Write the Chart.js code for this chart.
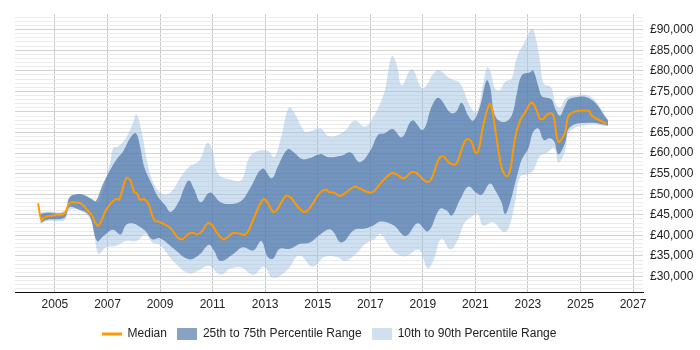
<!DOCTYPE html>
<html>
<head>
<meta charset="utf-8">
<script src="https://cdn.jsdelivr.net/npm/chart.js@4/dist/chart.umd.min.js"></script>
<style>
  body { margin: 0; background: #fff; }
  #wrap { width: 700px; height: 350px; }
</style>
</head>
<body>
<div id="wrap"><canvas id="chart" width="700" height="350"></canvas></div>
<script>
// [year, salary] pairs
const median = [
  [2004.36, 47800], [2004.49, 43750], [2004.62, 44500], [2005.0, 44900], [2005.36, 45300],
  [2005.55, 47750], [2005.83, 48000], [2006.02, 47650], [2006.21, 46300], [2006.4, 44900],
  [2006.61, 42400], [2006.72, 42950], [2006.97, 46450], [2007.29, 48800], [2007.45, 48800],
  [2007.71, 53900], [2007.86, 53500], [2008.02, 50550], [2008.12, 50200], [2008.24, 48700],
  [2008.4, 48800], [2008.56, 47650], [2008.78, 43750], [2009.0, 43200], [2009.39, 41800],
  [2009.7, 39300], [2009.87, 39150], [2010.09, 40450], [2010.28, 40600], [2010.41, 40200],
  [2010.6, 41000], [2010.81, 42950], [2010.98, 42550], [2011.17, 40600], [2011.4, 39050],
  [2011.55, 39450], [2011.77, 40600], [2012.0, 40450], [2012.25, 40200], [2012.44, 42200],
  [2012.67, 45700], [2012.93, 48800], [2013.08, 48050], [2013.31, 45700], [2013.46, 46300],
  [2013.78, 49600], [2013.97, 49200], [2014.2, 47300], [2014.48, 45700], [2014.67, 46450],
  [2015.09, 50400], [2015.31, 51150], [2015.43, 50550], [2015.62, 50400], [2015.85, 49600],
  [2016.07, 50400], [2016.39, 51800], [2016.64, 51300], [2016.96, 50400], [2017.15, 50800],
  [2017.4, 52700], [2017.79, 55100], [2017.98, 54900], [2018.23, 53900], [2018.36, 54150],
  [2018.55, 55300], [2018.74, 55250], [2019.12, 53100], [2019.31, 53500], [2019.63, 58800],
  [2019.8, 59150], [2020.01, 57600], [2020.27, 57400], [2020.46, 60550], [2020.65, 63300],
  [2020.84, 62900], [2021.0, 60100], [2021.11, 60450], [2021.3, 66700], [2021.53, 71900],
  [2021.62, 71100], [2021.81, 63600], [2022.0, 56550], [2022.19, 54350], [2022.32, 55750],
  [2022.51, 63600], [2022.7, 67900], [2022.89, 69850], [2023.15, 72300], [2023.34, 70250],
  [2023.46, 68300], [2023.6, 68400], [2023.72, 69300], [2023.84, 69700], [2023.97, 69100],
  [2024.16, 62800], [2024.41, 65000], [2024.6, 69500], [2025.33, 70250], [2025.42, 69100],
  [2026.0, 67100]
];

const p75 = [
  [2004.45, 45200], [2004.7, 45500], [2005.36, 45700], [2005.55, 49200], [2005.83, 50000],
  [2006.1, 49900], [2006.4, 48800], [2006.55, 48300], [2006.78, 51850], [2007.09, 55750],
  [2007.35, 58500], [2007.6, 60450], [2007.86, 63600], [2008.08, 64800], [2008.25, 61300],
  [2008.4, 56650], [2008.7, 52300], [2008.9, 49600], [2009.2, 47300], [2009.4, 45700],
  [2009.7, 48050], [2009.92, 51550], [2010.1, 53350], [2010.3, 51150], [2010.55, 48050],
  [2010.9, 50400], [2011.3, 48050], [2011.7, 47650], [2012.1, 48450], [2012.4, 51150],
  [2012.9, 56250], [2013.25, 53900], [2013.5, 57000], [2013.85, 60900], [2014.1, 60150],
  [2014.4, 58550], [2014.7, 58800], [2015.1, 59750], [2015.4, 59000], [2015.9, 59350],
  [2016.25, 60150], [2016.6, 57800], [2017.0, 60550], [2017.3, 64450], [2017.55, 64850],
  [2017.85, 65850], [2018.2, 63850], [2018.6, 67950], [2019.0, 65600], [2019.35, 71500],
  [2019.6, 73450], [2020.04, 69850], [2020.25, 69900], [2020.48, 72200], [2020.73, 69100],
  [2020.92, 67900], [2021.18, 71400], [2021.43, 77700], [2021.56, 76150], [2021.75, 69100],
  [2022.07, 67550], [2022.38, 69100], [2022.58, 74550], [2022.77, 78900], [2023.08, 79650],
  [2023.2, 80050], [2023.4, 76150], [2023.53, 73800], [2023.7, 73450], [2023.9, 73000],
  [2024.05, 70600], [2024.22, 69100], [2024.41, 71400], [2024.6, 73200], [2025.36, 73200],
  [2026.05, 67900]
];

const p25 = [
  [2004.45, 43000], [2004.7, 43800], [2005.36, 44300], [2005.55, 46850], [2005.9, 46300],
  [2006.3, 44900], [2006.6, 38650], [2006.85, 39850], [2007.2, 41400], [2007.5, 40250],
  [2007.7, 42550], [2007.95, 42950], [2008.2, 42200], [2008.45, 41000], [2008.7, 39050],
  [2009.0, 39300], [2009.5, 36900], [2010.1, 34200], [2010.5, 35350], [2010.85, 37700],
  [2011.05, 36350], [2011.3, 33800], [2011.8, 35550], [2012.15, 37100], [2012.55, 36350],
  [2012.85, 38650], [2013.1, 34750], [2013.3, 34350], [2013.55, 36750], [2013.95, 36750],
  [2014.3, 37900], [2014.7, 38300], [2015.1, 40250], [2015.5, 41400], [2015.9, 38300],
  [2016.4, 41400], [2016.8, 41650], [2017.15, 42550], [2017.4, 43350], [2017.9, 42400],
  [2018.35, 39850], [2018.8, 42950], [2019.2, 41000], [2019.65, 46450], [2019.9, 46100],
  [2020.1, 44800], [2020.42, 48700], [2020.73, 51850], [2021.05, 50300], [2021.24, 49900],
  [2021.56, 52600], [2021.75, 51050], [2022.0, 47950], [2022.13, 45200], [2022.32, 47950],
  [2022.51, 52600], [2022.64, 55750], [2022.77, 58500], [2023.02, 61250], [2023.2, 65150],
  [2023.4, 65950], [2023.6, 63200], [2023.84, 63600], [2024.0, 62800], [2024.16, 59700],
  [2024.41, 62400], [2024.6, 66300], [2025.36, 67350], [2026.05, 66700]
];

const p90 = [
  [2004.45, 45500], [2004.7, 45800], [2005.36, 46000], [2005.6, 49600], [2005.9, 50000],
  [2006.45, 48800], [2006.65, 48050], [2007.09, 57300], [2007.22, 61250], [2007.41, 61650],
  [2007.73, 64000], [2007.98, 67500], [2008.1, 69450], [2008.3, 65250], [2008.5, 58200],
  [2008.75, 52700], [2009.1, 50000], [2009.4, 50400], [2009.8, 54300], [2010.1, 56650],
  [2010.5, 58200], [2010.8, 62500], [2011.0, 60550], [2011.2, 55050], [2011.7, 53500],
  [2012.1, 53500], [2012.4, 59000], [2012.75, 60550], [2013.1, 60550], [2013.35, 59000],
  [2013.6, 63700], [2013.9, 71100], [2014.1, 69900], [2014.5, 65250], [2014.7, 65250],
  [2015.1, 66000], [2015.45, 64050], [2016.0, 65250], [2016.4, 67950], [2016.8, 66400],
  [2017.15, 69150], [2017.35, 71600], [2017.56, 75350], [2017.82, 83600], [2018.0, 81600],
  [2018.2, 76500], [2018.58, 80450], [2018.95, 75800], [2019.1, 76150], [2019.55, 80100],
  [2020.04, 78100], [2020.42, 76900], [2020.8, 71400], [2021.05, 69850], [2021.3, 76900],
  [2021.45, 80800], [2021.56, 80050], [2021.75, 75700], [2021.94, 75350], [2022.13, 77300],
  [2022.38, 78100], [2022.58, 83200], [2022.89, 87100], [2023.15, 90250], [2023.27, 88700],
  [2023.46, 82400], [2023.6, 76900], [2023.88, 76000], [2024.05, 72000], [2024.22, 71000],
  [2024.41, 73000], [2024.6, 73800], [2025.36, 73800], [2026.05, 68100]
];

const p10 = [
  [2004.45, 42800], [2004.7, 43500], [2005.36, 43700], [2005.55, 46100], [2005.95, 46100],
  [2006.4, 43350], [2006.65, 35550], [2006.95, 37100], [2007.35, 37500], [2007.7, 38650],
  [2008.1, 38650], [2008.45, 40300], [2008.7, 38300], [2009.0, 37700], [2009.5, 33800],
  [2010.1, 30800], [2010.5, 31600], [2010.85, 32600], [2011.3, 30500], [2011.7, 32000],
  [2012.1, 32200], [2012.55, 30450], [2012.95, 32400], [2013.3, 29700], [2013.85, 31650],
  [2014.3, 35150], [2014.8, 32400], [2015.25, 34750], [2015.75, 34750], [2016.05, 33800],
  [2016.5, 35800], [2016.8, 37900], [2017.15, 39050], [2017.4, 40300], [2017.8, 36750],
  [2018.3, 34900], [2018.85, 36500], [2019.18, 32000], [2019.4, 33800], [2019.7, 39200],
  [2020.04, 36550], [2020.3, 38500], [2020.6, 43200], [2020.92, 44800], [2021.08, 45300],
  [2021.3, 42400], [2021.68, 43200], [2022.07, 40850], [2022.26, 41650], [2022.51, 47950],
  [2022.7, 54200], [2023.02, 54950], [2023.2, 55750], [2023.46, 59300], [2023.72, 60100],
  [2024.0, 61250], [2024.16, 57700], [2024.41, 60450], [2024.6, 65300], [2025.36, 66950],
  [2026.05, 66500]
];

const yearTicks = [2005, 2007, 2009, 2011, 2013, 2015, 2017, 2019, 2021, 2023, 2025, 2027];
const seriesLabels = ['Median', '25th to 75th Percentile Range', '10th to 90th Percentile Range'];

const orange = '#FF9900';
const darkFill = 'rgba(58, 102, 158, 0.62)';
const lightFill = 'rgba(160, 194, 228, 0.5)';

const toPoints = (arr) => arr.map(([x, y]) => ({ x: x, y: y }));

// little legend glyphs: a line for the median, boxes for the ranges
const makeIcon = (color, h) => {
  const c = document.createElement('canvas');
  c.width = 20;
  c.height = 12;
  const g = c.getContext('2d');
  g.fillStyle = color;
  g.fillRect(0, (12 - h) / 2, 20, h);
  return c;
};
const legendIcons = [makeIcon(orange, 3), makeIcon('#86A3C4', 12), makeIcon('#D0E0F0', 12)];

Chart.defaults.font.family = "'Liberation Sans', Arial, sans-serif";
Chart.defaults.font.size = 12;
Chart.defaults.color = '#222';

const bandLine = { borderWidth: 0, pointRadius: 0, tension: 0.4 };

new Chart(document.getElementById('chart').getContext('2d'), {
  type: 'line',
  data: {
    datasets: [
      {
        label: seriesLabels[0],
        data: toPoints(median),
        borderColor: orange,
        borderWidth: 2,
        pointRadius: 0,
        fill: false,
        tension: 0.4
      },
      Object.assign({ label: seriesLabels[1], data: toPoints(p75), backgroundColor: darkFill, fill: 3 }, bandLine),
      Object.assign({ label: seriesLabels[2], data: toPoints(p90), backgroundColor: lightFill, fill: 4 }, bandLine),
      Object.assign({ label: '25th', data: toPoints(p25), fill: false }, bandLine),
      Object.assign({ label: '10th', data: toPoints(p10), fill: false }, bandLine)
    ]
  },
  options: {
    responsive: false,
    animation: false,
    layout: { padding: { left: 15, top: 5, right: 0, bottom: 0 } },
    scales: {
      x: {
        type: 'linear',
        min: 2003.48,
        max: 2027.38,
        afterBuildTicks: (scale) => {
          scale.ticks = yearTicks.map((v) => ({ value: v }));
        },
        afterFit: (scale) => {
          scale.height = 26;
        },
        ticks: {
          padding: 5,
          autoSkip: false,
          maxRotation: 0,
          callback: (v) => String(v)
        },
        grid: { color: '#c8c8c8', drawTicks: false },
        border: { color: '#111', width: 1 }
      },
      y: {
        position: 'right',
        min: 26250,
        max: 93750,
        afterBuildTicks: (scale) => {
          const t = [];
          for (let v = 27000; v <= 93000; v += 1000) t.push({ value: v });
          scale.ticks = t;
        },
        afterFit: (scale) => {
          scale.width = 57;
        },
        ticks: {
          padding: 7,
          autoSkip: false,
          callback: (v) => (v % 5000 === 0 ? '£' + v.toLocaleString('en-GB') : '')
        },
        grid: {
          drawTicks: false,
          color: (ctx) => (ctx.tick && ctx.tick.value % 5000 === 0 ? '#d2d2d2' : '#ebebeb')
        },
        border: { display: false }
      }
    },
    plugins: {
      tooltip: { enabled: false },
      legend: {
        position: 'bottom',
        fullSize: false,
        labels: {
          usePointStyle: true,
          pointStyleWidth: 20,
          boxHeight: 12,
          padding: 10,
          generateLabels: (chart) => chart.data.datasets.slice(0, 3).map((ds, i) => ({
            text: ds.label,
            pointStyle: legendIcons[i],
            datasetIndex: i,
            hidden: false,
            fillStyle: 'transparent',
            strokeStyle: 'transparent',
            lineWidth: 0,
            fontColor: '#222'
          }))
        }
      }
    }
  }
});
</script>
</body>
</html>
